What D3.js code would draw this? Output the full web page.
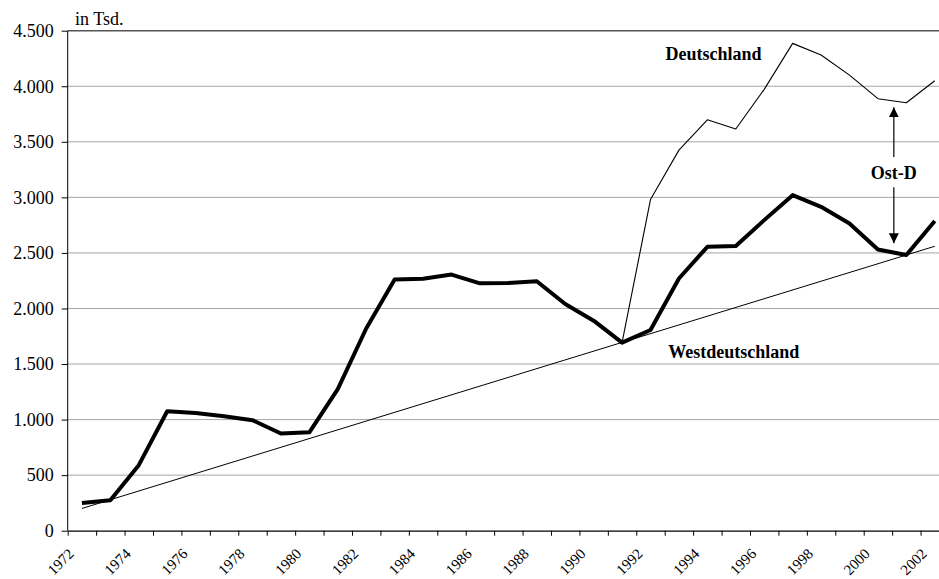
<!DOCTYPE html>
<html>
<head>
<meta charset="utf-8">
<script src="https://cdn.jsdelivr.net/npm/d3@7"></script>
<style>
  body { margin: 0; background: #fff; }
  text { font-family: "Liberation Serif", "Times New Roman", serif; }
</style>
</head>
<body>
<div id="chart"></div>
<script>
// Jahre 1972 - 2002
const years = d3.range(1972, 2003);
// Westdeutschland (in Tsd.)
const west = [250, 275, 590, 1075, 1060, 1030, 995, 875, 885, 1275, 1820, 2260, 2268, 2305,
  2226, 2230, 2245, 2040, 1890, 1692, 1806, 2270, 2555, 2562, 2795, 3020, 2915, 2765, 2530, 2481, 2787];
// Deutschland ab 1991
const deYears = d3.range(1991, 2003);
const de = [1692, 2980, 3425, 3698, 3615, 3972, 4386, 4281, 4100, 3888, 3852, 4050];
// Trendlinie
const trendYears = [1972, 2002];
const trendValues = [200, 2560];
const yTicks = [0, 500, 1000, 1500, 2000, 2500, 3000, 3500, 4000, 4500];
const labelYears = d3.range(1972, 2003, 2);

const width = 939, height = 579;
const mLeft = 67.7, mTop = 30.7, mBottom = 530.7, mRight = 949;

const svg = d3.select("#chart").append("svg")
  .attr("width", width).attr("height", height)
  .attr("viewBox", [0, 0, width, height]);

const x = d3.scaleLinear().domain([1971.5, 2002.5]).range([mLeft, mRight]);
const y = d3.scaleLinear().domain([0, 4500]).range([mBottom, mTop]);

const fmt = d3.formatLocale({ decimal: ",", thousands: ".", grouping: [3], currency: ["", ""] }).format(",");

// gridlines
svg.append("g")
  .selectAll("line")
  .data(yTicks.filter(d => d > 0))
  .join("line")
  .attr("x1", mLeft).attr("x2", mRight)
  .attr("y1", d => y(d)).attr("y2", d => y(d))
  .attr("stroke", d => d === 4500 ? "#555" : "#a6a6a6")
  .attr("stroke-width", d => d === 4500 ? 1.4 : 1);

// y axis
const yAxis = svg.append("g")
  .attr("transform", `translate(${mLeft},0)`)
  .call(d3.axisLeft(y).tickValues(yTicks).tickFormat(fmt).tickSize(6).tickPadding(8));
yAxis.select(".domain").attr("stroke", "#000").attr("d", `M0,${mTop}V${mBottom}`);
yAxis.selectAll("text").attr("font-size", 18).attr("fill", "#000")
  .style("font-family", "'Liberation Serif', serif");

// x axis (ticks between categories)
const xAxis = svg.append("g")
  .attr("transform", `translate(0,${mBottom})`)
  .call(d3.axisBottom(x).tickValues(d3.range(1971.5, 2002, 1)).tickFormat("").tickSize(5).tickSizeOuter(0));
xAxis.select(".domain").attr("stroke", "#000").attr("stroke-width", 1.2);
xAxis.selectAll(".tick line").attr("stroke", "#000");

svg.append("g")
  .selectAll("text")
  .data(labelYears)
  .join("text")
  .attr("transform", d => `translate(${x(d) - 7},${mBottom + 24}) rotate(-45)`)
  .attr("text-anchor", "end")
  .attr("font-size", 15)
  .text(d => d);

svg.append("text")
  .attr("x", 75).attr("y", 25)
  .attr("font-size", 18)
  .text("in Tsd.");

const line = d3.line().x(d => x(d[0])).y(d => y(d[1]));

// trend
svg.append("path")
  .datum(d3.zip(trendYears, trendValues))
  .attr("d", line)
  .attr("fill", "none").attr("stroke", "#000").attr("stroke-width", 1);

// Deutschland
svg.append("path")
  .datum(d3.zip(deYears, de))
  .attr("d", line)
  .attr("fill", "none").attr("stroke", "#000").attr("stroke-width", 1.1)
  .attr("stroke-linejoin", "round");

// Westdeutschland
svg.append("path")
  .datum(d3.zip(years, west))
  .attr("d", line)
  .attr("fill", "none").attr("stroke", "#000").attr("stroke-width", 4)
  .attr("stroke-linejoin", "round");

// arrows
const defs = svg.append("defs");
defs.append("marker")
  .attr("id", "arrow")
  .attr("viewBox", "0 0 10 10")
  .attr("refX", 10).attr("refY", 5)
  .attr("markerWidth", 10).attr("markerHeight", 10)
  .attr("markerUnits", "userSpaceOnUse")
  .attr("orient", "auto")
  .append("path").attr("d", "M0,0L10,5L0,10Z").attr("fill", "#000");

const ax = 2000.56;
svg.append("line")
  .attr("x1", x(ax)).attr("x2", x(ax))
  .attr("y1", y(3363)).attr("y2", y(3811))
  .attr("stroke", "#000").attr("stroke-width", 1.2)
  .attr("marker-end", "url(#arrow)");
svg.append("line")
  .attr("x1", x(ax)).attr("x2", x(ax))
  .attr("y1", y(3091)).attr("y2", y(2587))
  .attr("stroke", "#000").attr("stroke-width", 1.2)
  .attr("marker-end", "url(#arrow)");

svg.append("text")
  .attr("x", x(ax)).attr("y", y(3222)).attr("dy", "0.35em")
  .attr("text-anchor", "middle").attr("font-size", 18).attr("font-weight", "bold")
  .text("Ost-D");

svg.append("text")
  .attr("x", x(1994.22)).attr("y", y(4236))
  .attr("text-anchor", "middle").attr("font-size", 18).attr("font-weight", "bold")
  .text("Deutschland");

svg.append("text")
  .attr("x", x(1994.93)).attr("y", y(1554))
  .attr("text-anchor", "middle").attr("font-size", 18).attr("font-weight", "bold")
  .text("Westdeutschland");
</script>
</body>
</html>
